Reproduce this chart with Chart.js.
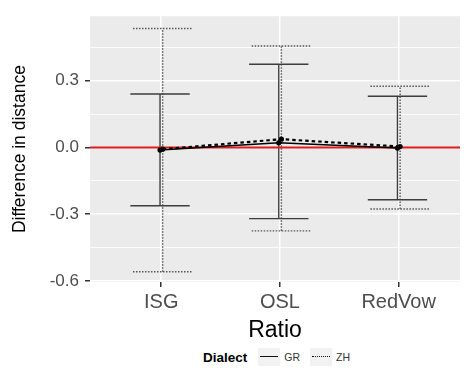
<!DOCTYPE html>
<html>
<head>
<meta charset="utf-8">
<script src="https://cdn.jsdelivr.net/npm/chart.js@4.4.1/dist/chart.umd.min.js"></script>
<style>
  html, body { margin: 0; padding: 0; background: #fff; overflow: hidden; }
  #wrap { position: relative; width: 464px; height: 376px; }
  #legend {
    position: absolute; left: 203px; top: 348px; height: 18px;
    display: flex; align-items: center;
    font-family: "Liberation Sans", Arial, sans-serif; color: #000;
  }
  #legend .title { font-weight: bold; font-size: 13.5px; margin-right: 11px; }
  #legend .key { width: 22px; height: 18px; background: #f2f2f2; position: relative; }
  #legend .key span { position: absolute; left: 2px; right: 2px; top: 8px; }
  #legend .lab { font-size: 10.5px; color: #333; margin: 0 10px 0 4px; }
</style>
</head>
<body>
<div id="wrap">
  <canvas id="chart" width="464" height="345"></canvas>
  <div id="legend">
    <span class="title">Dialect</span>
    <span class="key"><span style="border-top: 1.6px solid #111;"></span></span><span class="lab">GR</span>
    <span class="key"><span style="border-top: 1.6px dotted #111;"></span></span><span class="lab">ZH</span>
  </div>
</div>
<script>
// Data
const categories = ['ISG', 'OSL', 'RedVow'];
const grMean = [-0.012, 0.021, -0.003];
const grLow = [-0.262, -0.32, -0.235];
const grHigh = [0.24, 0.374, 0.23];
const zhMean = [-0.008, 0.037, 0.004];
const zhLow = [-0.559, -0.375, -0.277];
const zhHigh = [0.535, 0.456, 0.275];
const yMajorTicks = [-0.6, -0.3, 0, 0.3];
const yMinorTicks = [-0.45, -0.15, 0.15, 0.45];

const font = '"Liberation Sans", Arial, sans-serif';

// Build the error bar segments (vertical line + two caps) for one dialect
function errorBarSets(low, high, offset, dash, color) {
    const sets = [];
    categories.forEach((c, i) => {
        const x = i + 1 + offset;
        const segs = [
            [{x: x, y: low[i]}, {x: x, y: high[i]}],
            [{x: x - 0.25, y: high[i]}, {x: x + 0.25, y: high[i]}],
            [{x: x - 0.25, y: low[i]}, {x: x + 0.25, y: low[i]}]
        ];
        segs.forEach(seg => {
            sets.push({
                data: seg,
                borderColor: color,
                borderWidth: 1.4,
                borderDash: dash,
                pointRadius: 0,
                order: 5
            });
        });
    });
    return sets;
}

function meanSet(means, offset, dash, width) {
    return {
        data: means.map((v, i) => ({x: i + 1 + offset, y: v})),
        borderColor: '#000',
        backgroundColor: '#000',
        borderWidth: width,
        borderDash: dash,
        pointRadius: 2.6,
        pointBorderWidth: 0,
        order: 1
    };
}

const datasets = [
    ...errorBarSets(grLow, grHigh, -0.01, [], '#3d3d3d'),
    ...errorBarSets(zhLow, zhHigh, 0.012, [1.5, 1.5], '#555'),
    {
        // reference line at zero
        data: [{x: 0, y: 0}, {x: 4, y: 0}],
        borderColor: '#e01b1b',
        borderWidth: 2,
        pointRadius: 0,
        order: 3
    },
    meanSet(grMean, -0.01, [], 1.5),
    meanSet(zhMean, 0.012, [3.5, 3], 2.2)
];

// Grey panel background like ggplot
const panelBg = {
    id: 'panelBg',
    beforeDraw(chart) {
        const a = chart.chartArea;
        const ctx = chart.ctx;
        ctx.save();
        ctx.fillStyle = '#ebebeb';
        ctx.fillRect(a.left, a.top, a.right - a.left, a.bottom - a.top);
        ctx.restore();
    }
};

const isMajor = v => yMajorTicks.some(t => Math.abs(t - v) < 1e-9);

new Chart(document.getElementById('chart'), {
    type: 'line',
    data: { datasets: datasets },
    plugins: [panelBg],
    options: {
        responsive: false,
        animation: false,
        events: [],
        layout: { padding: { top: 12, right: 0, bottom: 0, left: 0 } },
        plugins: { legend: { display: false }, tooltip: { enabled: false } },
        scales: {
            x: {
                type: 'linear',
                min: 0.4,
                max: 0.4 + 374 / 120,
                afterBuildTicks: scale => {
                    scale.ticks = categories.map((c, i) => ({value: i + 1}));
                },
                afterFit: scale => { scale.height = 63; },
                border: { display: false },
                grid: {
                    color: '#fff',
                    lineWidth: 1.5,
                    tickColor: '#333',
                    tickLength: 5
                },
                ticks: {
                    padding: 3,
                    color: '#4d4d4d',
                    font: { family: font, size: 20 },
                    callback: v => categories[v - 1]
                },
                title: {
                    display: true,
                    text: 'Ratio',
                    color: '#000',
                    font: { family: font, size: 23 },
                    padding: { top: 0, bottom: 1 }
                }
            },
            y: {
                type: 'linear',
                min: -0.605,
                max: 0.59,
                afterBuildTicks: scale => {
                    scale.ticks = yMajorTicks.concat(yMinorTicks)
                        .sort((a, b) => a - b)
                        .map(v => ({value: v}));
                },
                afterFit: scale => { scale.width = 90; },
                border: { display: false },
                grid: {
                    color: '#fff',
                    lineWidth: ctx => isMajor(ctx.tick.value) ? 1.5 : 0.8,
                    tickColor: ctx => isMajor(ctx.tick.value) ? '#333' : 'rgba(0,0,0,0)',
                    tickLength: 5
                },
                ticks: {
                    padding: 6,
                    color: '#4d4d4d',
                    font: { family: font, size: 17 },
                    callback: v => isMajor(v) ? v.toFixed(1) : ''
                },
                title: {
                    display: true,
                    text: 'Difference in distance',
                    color: '#000',
                    font: { family: font, size: 17.5 },
                    padding: { top: 10, bottom: 0 }
                }
            }
        }
    }
});
</script>
</body>
</html>
